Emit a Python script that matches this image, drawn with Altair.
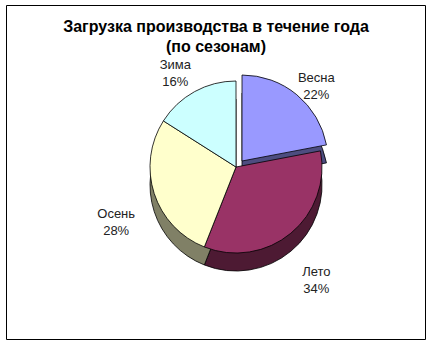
import math
import altair as alt
import pandas as pd

# ---- data ----
seasons = ["Весна", "Лето", "Осень", "Зима"]
values = [22, 34, 28, 16]
order = [1, 2, 3, 4]
title_lines = ["Загрузка производства в течение года", "(по сезонам)"]

# ---- styles ----
top_colors = ["#9999FF", "#993366", "#FFFFCC", "#CCFFFF"]
side_colors = ["#4D4D80", "#4D1A33", "#808066", "#668080"]
FONT = "Liberation Sans"
CX, CY, R, DEPTH = 230, 162, 86, 18
EXPLODE_X, EXPLODE_Y = 6, -6

df = pd.DataFrame({"season": seasons, "value": values, "order": order})

base = (
    alt.Chart(df)
    .transform_window(cum="sum(value)", sort=[alt.SortField("order")], frame=[None, 0])
    .transform_calculate(
        start="datum.cum - datum.value",
        mid="datum.cum - datum.value / 2",
        label="datum.season + '\\n' + datum.value + '%'",
    )
)

theta_scale = alt.Scale(domain=[0, 100], range=[0, 2 * math.pi])
theta = alt.Theta("start:Q", scale=theta_scale)
theta2 = alt.Theta2("cum:Q")

side_scale = alt.Scale(domain=seasons, range=side_colors)
top_scale = alt.Scale(domain=seasons, range=top_colors)


def arcs(scale, dy, exploded):
    filt = "datum.season == 'Весна'" if exploded else "datum.season != 'Весна'"
    kw = dict(stroke="black", strokeWidth=0.8, outerRadius=R)
    if exploded:
        kw.update(xOffset=EXPLODE_X, yOffset=EXPLODE_Y + dy)
    else:
        kw.update(yOffset=dy)
    return (
        base.transform_filter(filt)
        .mark_arc(**kw)
        .encode(
            theta=theta,
            theta2=theta2,
            x=alt.value(CX),
            y=alt.value(CY),
            color=alt.Color("season:N", scale=scale, legend=None),
        )
    )


labels = base.mark_text(
    radius=R + 40, font=FONT, fontSize=13, color="#222222", lineBreak="\n", lineHeight=17,
    align="center", baseline="middle"
).encode(
    theta=alt.Theta("mid:Q", scale=theta_scale),
    x=alt.value(CX),
    y=alt.value(CY + 8),
    text="label:N",
)

title = (
    alt.Chart(pd.DataFrame({"t": ["\n".join(title_lines)]}))
    .mark_text(font=FONT, fontSize=16, fontWeight="bold", color="black", lineBreak="\n", lineHeight=20,
               align="center", baseline="top")
    .encode(x=alt.value(210), y=alt.value(14), text="t:N")
)

chart = (
    alt.layer(
        arcs(side_scale, DEPTH, True),
        arcs(side_scale, DEPTH, False),
        arcs(top_scale, 0, True),
        arcs(top_scale, 0, False),
        labels,
        title,
    )
    .resolve_scale(color="independent")
    .properties(width=419, height=334, autosize="none", padding={"left": 6, "top": 5, "right": 5, "bottom": 5})
    .configure_view(stroke="black", strokeWidth=1)
)

chart.save("out.html", embed_options={"renderer": "svg", "actions": False})
